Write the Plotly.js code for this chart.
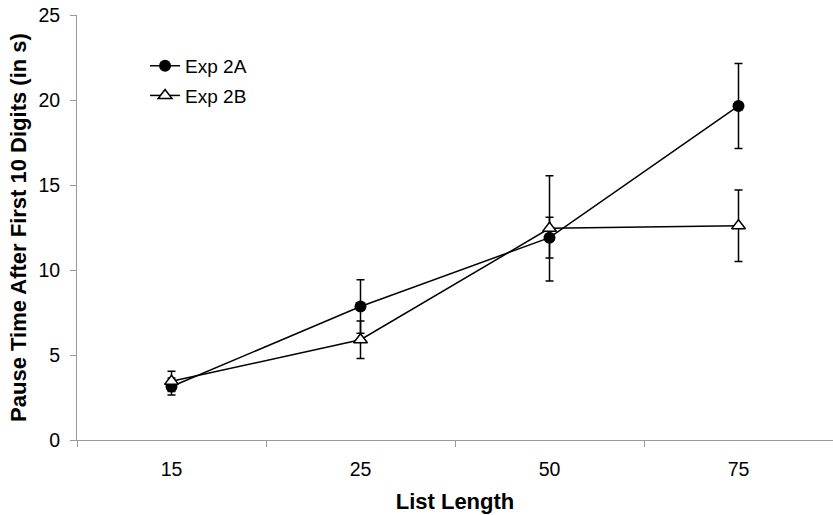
<!DOCTYPE html>
<html>
<head>
<meta charset="utf-8">
<script src="https://cdn.plot.ly/plotly-3.0.1.min.js"></script>
<style>html,body{margin:0;padding:0;background:#fff;}#chart{width:833px;height:515px;}</style>
</head>
<body>
<div id="chart"></div>
<script>
const categories = ["15", "25", "50", "75"];
const exp2A = [3.15, 7.85, 11.9, 19.65];
const exp2A_err = [0.5, 1.57, 1.2, 2.5];
const exp2B = [3.45, 5.9, 12.45, 12.6];
const exp2B_err = [0.6, 1.1, 3.1, 2.1];

const traces = [
  {
    x: categories, y: exp2A, name: "Exp 2A", type: "scatter", mode: "lines+markers",
    legendgroup: "a",
    line: {color: "#000", width: 1.5},
    marker: {symbol: "circle", size: 12, color: "#000"},
    error_y: {type: "data", array: exp2A_err, visible: true, color: "#000", thickness: 1.5, width: 4}
  },
  {
    x: categories, y: exp2B, name: "Exp 2B", type: "scatter", mode: "lines+markers",
    legendgroup: "b",
    line: {color: "#000", width: 1.5},
    marker: {symbol: "triangle-up", size: 12, color: "#fff", line: {color: "#000", width: 1.5}},
    error_y: {type: "data", array: exp2B_err, visible: true, color: "#000", thickness: 1.5, width: 4}
  }
];

const layout = {
  width: 833, height: 515,
  margin: {l: 77, r: 0, t: 15, b: 75},
  paper_bgcolor: "#fff", plot_bgcolor: "#fff",
  font: {family: "Liberation Sans, Arial, sans-serif", size: 19, color: "#000"},
  showlegend: true,
  legend: {x: 0.09, y: 0.925, xanchor: "left", yanchor: "top", bgcolor: "rgba(0,0,0,0)", font: {size: 19}, tracegroupgap: 2, itemwidth: 30},
  xaxis: {
    type: "category", tickson: "boundaries", ticks: "outside", ticklen: 6, tickcolor: "#999",
    showline: true, linecolor: "#999", linewidth: 1, showgrid: false, zeroline: false,
    range: [-0.5, 3.5], ticklabelstandoff: 12,
    tickfont: {size: 19.5},
    title: {text: "<b>List Length</b>", font: {size: 22}, standoff: 14}
  },
  yaxis: {
    range: [0, 25], dtick: 5, ticks: "outside", ticklen: 6, tickcolor: "#999",
    showline: true, linecolor: "#999", linewidth: 1, showgrid: false, zeroline: false,
    ticklabelstandoff: 6, tickfont: {size: 19.5},
    title: {text: "<b>Pause Time After First 10 Digits (in s)</b>", font: {size: 22}, standoff: 5}
  }
};

Plotly.newPlot("chart", traces, layout, {displayModeBar: false, responsive: false});
</script>
</body>
</html>
